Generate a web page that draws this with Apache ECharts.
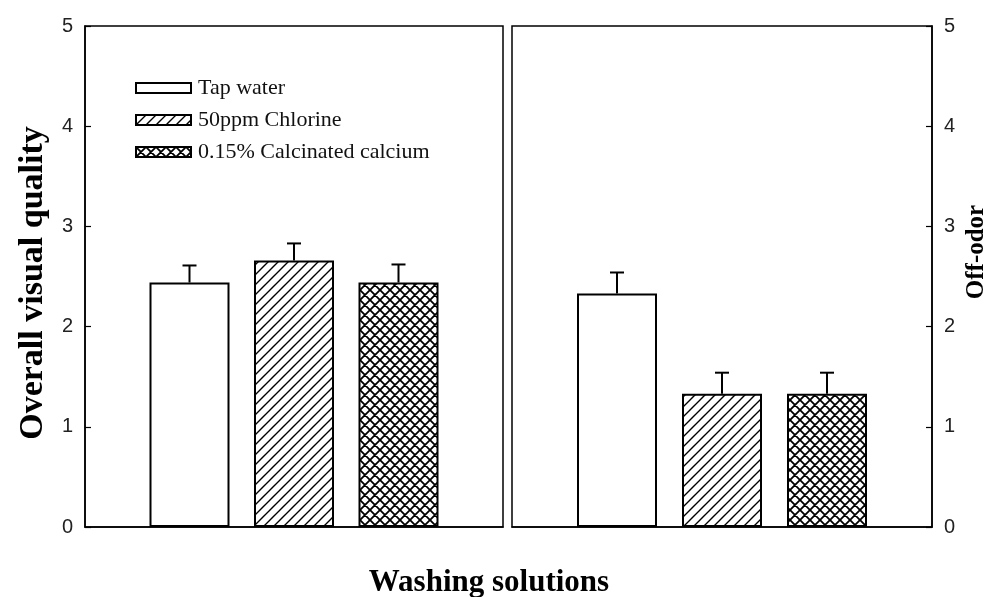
<!DOCTYPE html>
<html>
<head>
<meta charset="utf-8">
<script src="https://cdn.jsdelivr.net/npm/echarts@6/dist/echarts.min.js"></script>
<style>
  html, body { margin: 0; padding: 0; background: #fff; }
  #chart { width: 1005px; height: 597px; }
</style>
</head>
<body>
<div id="chart"></div>
<script>
  // data
  var treatments = ['Tap water', '50ppm Chlorine', '0.15% Calcinated calcium'];
  var xPos = [1, 2, 3];
  var visualQuality = [2.44, 2.66, 2.44];
  var visualQualityErr = [0.17, 0.17, 0.18];
  var offOdor = [2.33, 1.33, 1.33];
  var offOdorErr = [0.21, 0.21, 0.21];

  // hatch fills
  function makeHatch (type) {
    var c = document.createElement('canvas');
    c.width = 10;
    c.height = 10;
    var ctx = c.getContext('2d');
    ctx.fillStyle = '#fff';
    ctx.fillRect(0, 0, 10, 10);
    ctx.strokeStyle = '#000';
    ctx.lineWidth = type === 'cross' ? 1.8 : 1.4;
    ctx.beginPath();
    // "/" lines: x + y = k
    [0, 10, 20].forEach(function (k) {
      ctx.moveTo(k - 12, 12);
      ctx.lineTo(k + 2, -2);
    });
    if (type === 'cross') {
      // "\" lines: x - y = k
      [-10, 0, 10].forEach(function (k) {
        ctx.moveTo(k - 2, -2);
        ctx.lineTo(k + 12, 12);
      });
    }
    ctx.stroke();
    return c;
  }
  var fills = [
    '#fff',
    { image: makeHatch('slash'), repeat: 'repeat' },
    { image: makeHatch('cross'), repeat: 'repeat' }
  ];

  var myChart = echarts.init(document.getElementById('chart'));

  var grids = [
    { left: 85, top: 26, width: 418, height: 501 },
    { left: 512, top: 26, width: 420, height: 501 }
  ];

  function yAxisFor (gridIndex, position) {
    return {
      type: 'value',
      gridIndex: gridIndex,
      position: position,
      min: 0,
      max: 5,
      interval: 1,
      axisLine: { show: true, onZero: false, lineStyle: { color: '#000', width: 1.5 } },
      axisTick: { show: true, inside: true, length: 6, lineStyle: { color: '#000', width: 1.2 } },
      axisLabel: {
        margin: 12,
        color: '#222',
        fontFamily: 'Liberation Sans',
        fontSize: 20
      },
      splitLine: { show: false }
    };
  }

  function xAxisFor (gridIndex) {
    return {
      type: 'value',
      gridIndex: gridIndex,
      min: 0,
      max: 4,
      axisLine: { show: true, onZero: false, lineStyle: { color: '#000', width: 1.5 } },
      axisTick: { show: false },
      axisLabel: { show: false },
      splitLine: { show: false }
    };
  }

  var series = [];
  treatments.forEach(function (name, i) {
    series.push({
      name: name,
      type: 'bar',
      xAxisIndex: 0,
      yAxisIndex: 0,
      barWidth: 80,
      barGap: '-100%',
      itemStyle: { color: fills[i], borderColor: '#000', borderWidth: 2 },
      data: [[xPos[i], visualQuality[i]]]
    });
    series.push({
      name: name,
      type: 'bar',
      xAxisIndex: 1,
      yAxisIndex: 1,
      barWidth: 80,
      barGap: '-100%',
      itemStyle: { color: fills[i], borderColor: '#000', borderWidth: 2 },
      data: [[xPos[i], offOdor[i]]]
    });
  });

  function errorSeries (axisIndex, values, errs) {
    return {
      type: 'custom',
      xAxisIndex: axisIndex,
      yAxisIndex: axisIndex,
      silent: true,
      z: 5,
      data: values.map(function (v, i) { return [xPos[i], v, errs[i]]; }),
      renderItem: function (params, api) {
        var x = api.value(0);
        var v = api.value(1);
        var e = api.value(2);
        var base = api.coord([x, v]);
        var top = api.coord([x, v + e]);
        var half = 7;
        return {
          type: 'group',
          children: [
            { type: 'line', shape: { x1: base[0], y1: base[1], x2: top[0], y2: top[1] }, style: { stroke: '#000', lineWidth: 2 } },
            { type: 'line', shape: { x1: top[0] - half, y1: top[1], x2: top[0] + half, y2: top[1] }, style: { stroke: '#000', lineWidth: 2 } }
          ]
        };
      }
    };
  }
  series.push(errorSeries(0, visualQuality, visualQualityErr));
  series.push(errorSeries(1, offOdor, offOdorErr));

  myChart.setOption({
    backgroundColor: '#fff',
    animation: false,
    grid: grids.map(function (g) {
      return Object.assign({ show: true, borderColor: '#000', borderWidth: 1.5, backgroundColor: 'transparent' }, g);
    }),
    xAxis: [xAxisFor(0), xAxisFor(1)],
    yAxis: [yAxisFor(0, 'left'), yAxisFor(1, 'right')],
    legend: {
      data: treatments,
      orient: 'vertical',
      left: 135,
      top: 77,
      padding: 0,
      itemWidth: 55,
      itemHeight: 10,
      itemGap: 10,
      icon: 'rect',
      textStyle: { fontFamily: 'Liberation Serif', fontSize: 22, color: '#111', padding: [0, 0, 0, 2] },
      selectedMode: false
    },
    graphic: [
      {
        type: 'text', x: 33, y: 283, rotation: Math.PI / 2,
        style: { text: 'Overall visual quality', font: 'bold 34px "Liberation Serif"', fill: '#000', align: 'center', verticalAlign: 'middle' }
      },
      {
        type: 'text', x: 977, y: 252, rotation: Math.PI / 2,
        style: { text: 'Off-odor', font: 'bold 25px "Liberation Serif"', fill: '#000', align: 'center', verticalAlign: 'middle' }
      },
      {
        type: 'text', x: 489, y: 583,
        style: { text: 'Washing solutions', font: 'bold 31px "Liberation Serif"', fill: '#000', align: 'center', verticalAlign: 'middle' }
      }
    ],
    series: series
  });
</script>
</body>
</html>
